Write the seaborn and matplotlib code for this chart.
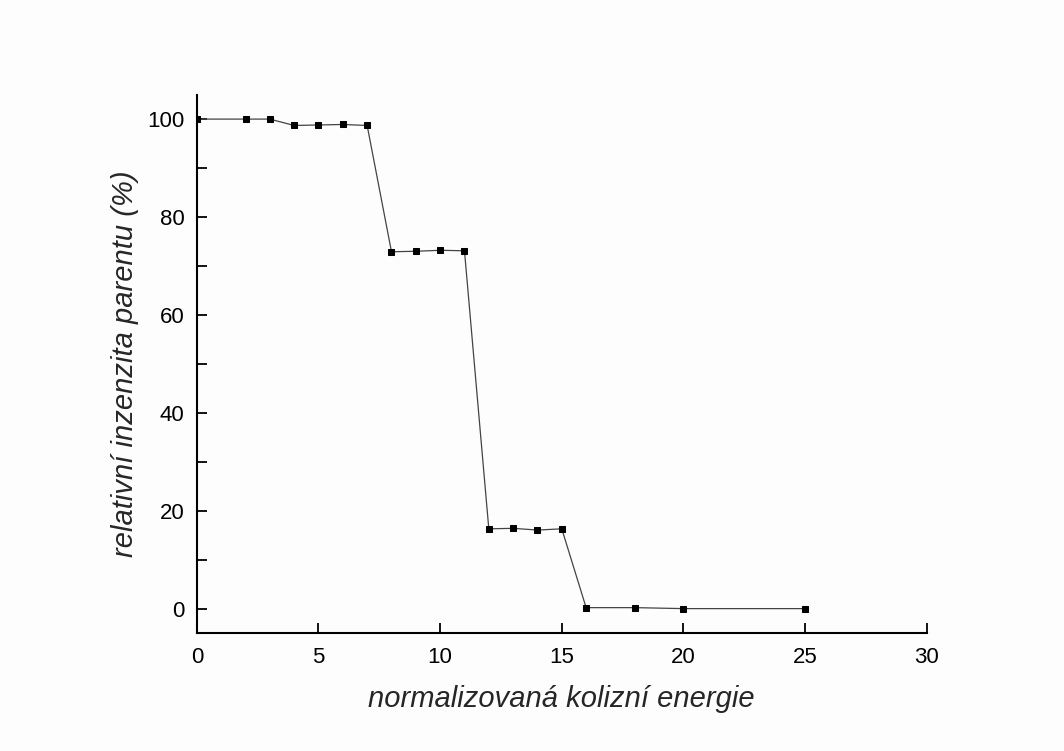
import matplotlib
matplotlib.use("Agg")
import matplotlib.pyplot as plt
from matplotlib.ticker import MultipleLocator
import seaborn as sns
import pandas as pd

energie = [0, 2, 3, 4, 5, 6, 7, 8, 9, 10, 11, 12, 13, 14, 15, 16, 18, 20, 25]
intenzita = [100, 100, 100, 98.7, 98.8, 98.9, 98.7, 72.9, 73.0, 73.2, 73.1,
             16.3, 16.4, 16.05, 16.3, 0.2, 0.2, 0.0, 0.0]

sns.set_theme(style="white")
plt.rcParams['font.family'] = ['Liberation Sans', 'DejaVu Sans']

df = pd.DataFrame({"x": energie, "y": intenzita})

fig = plt.figure(figsize=(10.64, 7.51), dpi=100, facecolor='#fdfdfd')
ax = fig.add_axes([0.185, 0.157, 0.686, 0.717])
ax.set_facecolor('#fdfdfd')

sns.lineplot(data=df, x="x", y="y", ax=ax, color='#444444', linewidth=0.9,
             marker='s', markersize=5, markerfacecolor='black',
             markeredgecolor='black')

ax.set_xlim(0, 30)
ax.set_ylim(-5, 105)
ax.xaxis.set_major_locator(MultipleLocator(5))
ax.yaxis.set_major_locator(MultipleLocator(20))
ax.yaxis.set_minor_locator(MultipleLocator(10))

for s in ['top', 'right']:
    ax.spines[s].set_visible(False)
for s in ['left', 'bottom']:
    ax.spines[s].set_linewidth(1.5)
    ax.spines[s].set_color('black')

ax.tick_params(axis='both', which='both', direction='in', length=7, width=1.3,
               colors='black', labelsize=16, left=True, bottom=True)
ax.tick_params(axis='y', which='both', pad=9)
ax.tick_params(axis='x', which='both', pad=10)

ax.set_xlabel("normalizovaná kolizní energie", fontsize=21, style='italic', labelpad=12)
ax.set_ylabel("relativní inzenzita parentu (%)", fontsize=21, style='italic', labelpad=6)

fig.savefig("out.png", dpi=100, facecolor=fig.get_facecolor())
